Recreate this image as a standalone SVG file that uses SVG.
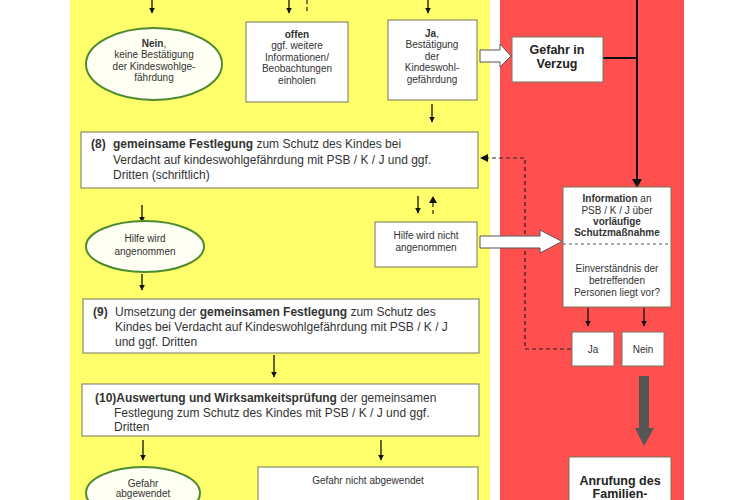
<svg xmlns="http://www.w3.org/2000/svg" width="750" height="500" viewBox="0 0 750 500">
<defs>
<style>
text{font-family:"Liberation Sans",Arial,sans-serif;fill:#333;}
.s10{font-size:10px;text-anchor:middle;}
.s12{font-size:12px;}
.b{font-weight:bold;}
.box{fill:#fff;stroke:#77775a;stroke-width:1;}
.ell{fill:#fffff4;stroke:#4e8a2e;stroke-width:2;}
.ln{fill:none;stroke:#111;stroke-width:1.3;}
.dash{fill:none;stroke:#222;stroke-width:1.2;stroke-dasharray:4,3;}
.big{font-size:12.5px;font-weight:bold;text-anchor:middle;fill:#222;}
.blk{fill:#fff;stroke:#555;stroke-width:1;}
</style>
<marker id="ah" viewBox="0 0 10 10" refX="9" refY="5" markerWidth="6" markerHeight="6" orient="auto" markerUnits="userSpaceOnUse">
<path d="M0,0 L10,5 L0,10 Z" fill="#111"/>
</marker>
</defs>
<rect x="0" y="0" width="750" height="500" fill="#fff"/>
<rect id="yellow-panel" x="70" y="0" width="420" height="500" fill="#ffff6b"/>
<rect id="red-panel" x="500" y="0" width="184" height="500" fill="#ff4f4f"/>

<g id="connectors">
<line class="ln" x1="152" y1="0" x2="152" y2="13" marker-end="url(#ah)"/>
<line class="ln" x1="289" y1="0" x2="289" y2="13" marker-end="url(#ah)"/>
<line class="dash" x1="307" y1="0" x2="307" y2="12"/>
<line class="ln" x1="428" y1="0" x2="428" y2="13" marker-end="url(#ah)"/>
<line class="ln" x1="432" y1="104" x2="432" y2="122" marker-end="url(#ah)"/>
<path class="blk" d="M480,50 L500,50 L500,44 L511,56 L500,67 L500,62 L480,62 Z"/>
<line x1="603" y1="58" x2="637" y2="58" stroke="#111" stroke-width="2"/>
<line x1="637" y1="0" x2="637" y2="180" stroke="#111" stroke-width="2"/>
<path d="M632,179 L642,179 L637,188 Z" fill="#111"/>
<path class="dash" d="M571,349 L525,349 L525,158 L486,158"/>
<path d="M488,154 L480,158 L488,162 Z" fill="#111"/>
<line class="ln" x1="418" y1="196" x2="418" y2="213" marker-end="url(#ah)"/>
<line class="dash" x1="433" y1="214" x2="433" y2="202"/>
<path d="M429,203 L433,196 L437,203 Z" fill="#111"/>
<line class="ln" x1="142" y1="205" x2="142" y2="222" marker-end="url(#ah)"/>
<line class="ln" x1="142" y1="274" x2="142" y2="290" marker-end="url(#ah)"/>
<path class="blk" d="M480,236 L540,236 L540,230 L562,241.5 L540,253 L540,248 L480,248 Z"/>
<line class="ln" x1="588" y1="308" x2="588" y2="326" marker-end="url(#ah)"/>
<line class="ln" x1="644" y1="308" x2="644" y2="326" marker-end="url(#ah)"/>
<path d="M639,376 L649,376 L649,428 L654,428 L644,446 L635,428 L639,428 Z" fill="#555"/>
<line class="ln" x1="274" y1="355" x2="274" y2="377" marker-end="url(#ah)"/>
<line class="ln" x1="143" y1="440" x2="143" y2="460" marker-end="url(#ah)"/>
<line class="ln" x1="381" y1="440" x2="381" y2="460" marker-end="url(#ah)"/>
</g>

<g id="nein">
<ellipse class="ell" cx="154" cy="64" rx="68" ry="36"/>
<text class="s10" x="154" y="46.5"><tspan class="b">Nein</tspan>,</text>
<text class="s10" x="154" y="58">keine Bestätigung</text>
<text class="s10" x="154" y="69.5">der Kindeswohlge-</text>
<text class="s10" x="154" y="81">fährdung</text>
</g>

<g id="offen">
<rect class="box" x="246" y="22" width="102" height="80"/>
<text class="s10 b" x="297" y="37.5">offen</text>
<text class="s10" x="297" y="49">ggf. weitere</text>
<text class="s10" x="297" y="60.5">Informationen/</text>
<text class="s10" x="297" y="72">Beobachtungen</text>
<text class="s10" x="297" y="83.5">einholen</text>
</g>

<g id="ja-top">
<rect class="box" x="388" y="20" width="89" height="80"/>
<text class="s10" x="432" y="36.5"><tspan class="b">Ja</tspan>,</text>
<text class="s10" x="432" y="48">Bestätigung</text>
<text class="s10" x="432" y="59.5">der</text>
<text class="s10" x="432" y="71">Kindeswohl-</text>
<text class="s10" x="432" y="82.5">gefährdung</text>
</g>

<g id="gefahr-verzug">
<rect class="box" x="512" y="37" width="91" height="45"/>
<text class="big" x="557" y="53.5">Gefahr in</text>
<text class="big" x="557" y="67.5">Verzug</text>
</g>

<g id="step8">
<rect class="box" x="81" y="132" width="397" height="56"/>
<text class="s12 b" x="91" y="148">(8)</text>
<text class="s12" x="113" y="148"><tspan class="b">gemeinsame Festlegung</tspan> zum Schutz des Kindes bei</text>
<text class="s12" x="113" y="164">Verdacht auf kindeswohlgefährdung mit PSB / K / J und ggf.</text>
<text class="s12" x="113" y="179">Dritten (schriftlich)</text>
</g>

<g id="hilfe-ja">
<ellipse class="ell" cx="145" cy="246.5" rx="59" ry="25.5"/>
<text class="s10" x="145" y="241.5">Hilfe wird</text>
<text class="s10" x="145" y="254.5">angenommen</text>
</g>

<g id="hilfe-nein">
<rect class="box" x="375" y="222" width="102" height="45"/>
<text class="s10" x="426" y="238.5">Hilfe wird nicht</text>
<text class="s10" x="426" y="250.5">angenommen</text>
</g>

<g id="information">
<rect class="box" x="563" y="187" width="108" height="120"/>
<line x1="563" y1="244" x2="671" y2="244" stroke="#555" stroke-width="1" stroke-dasharray="3,3"/>
<text class="s10" x="617" y="201.5"><tspan class="b">Information</tspan> an</text>
<text class="s10" x="617" y="213.5">PSB / K / J über</text>
<text class="s10 b" x="617" y="224.5">vorläufige</text>
<text class="s10 b" x="617" y="235.5">Schutzmaßnahme</text>
<text class="s10" x="617" y="271.5">Einverständnis der</text>
<text class="s10" x="617" y="283.5">betreffenden</text>
<text class="s10" x="617" y="295.5">Personen liegt vor?</text>
</g>

<g id="ja-red">
<rect class="box" x="572" y="332" width="42" height="34"/>
<text class="s10" x="593" y="352.5">Ja</text>
</g>
<g id="nein-red">
<rect class="box" x="622" y="332" width="42" height="34"/>
<text class="s10" x="643" y="352.5">Nein</text>
</g>

<g id="step9">
<rect class="box" x="83" y="299" width="396" height="54"/>
<text class="s12 b" x="93" y="316">(9)</text>
<text class="s12" x="115" y="316">Umsetzung der <tspan class="b">gemeinsamen Festlegung</tspan> zum Schutz des</text>
<text class="s12" x="115" y="331">Kindes bei Verdacht auf Kindeswohlgefährdung mit PSB / K / J</text>
<text class="s12" x="115" y="346">und ggf. Dritten</text>
</g>

<g id="step10">
<rect class="box" x="82" y="384" width="397" height="52"/>
<text class="s12" x="95" y="402"><tspan class="b">(10)Auswertung und Wirksamkeitsprüfung</tspan> der gemeinsamen</text>
<text class="s12" x="114" y="417">Festlegung zum Schutz des Kindes mit PSB / K / J und ggf.</text>
<text class="s12" x="114" y="431">Dritten</text>
</g>

<g id="gefahr-abgewendet">
<ellipse class="ell" cx="143" cy="493" rx="57" ry="26"/>
<text class="s10" x="143" y="486.5">Gefahr</text>
<text class="s10" x="143" y="497">abgewendet</text>
</g>

<g id="gefahr-nicht">
<rect class="box" x="258" y="467" width="220" height="40"/>
<text class="s10" x="368" y="483.5">Gefahr nicht abgewendet</text>
</g>

<g id="anrufung">
<rect class="box" x="569" y="457" width="102" height="50"/>
<text class="big" x="620" y="485">Anrufung des</text>
<text class="big" x="620" y="498">Familien-</text>
</g>
</svg>
